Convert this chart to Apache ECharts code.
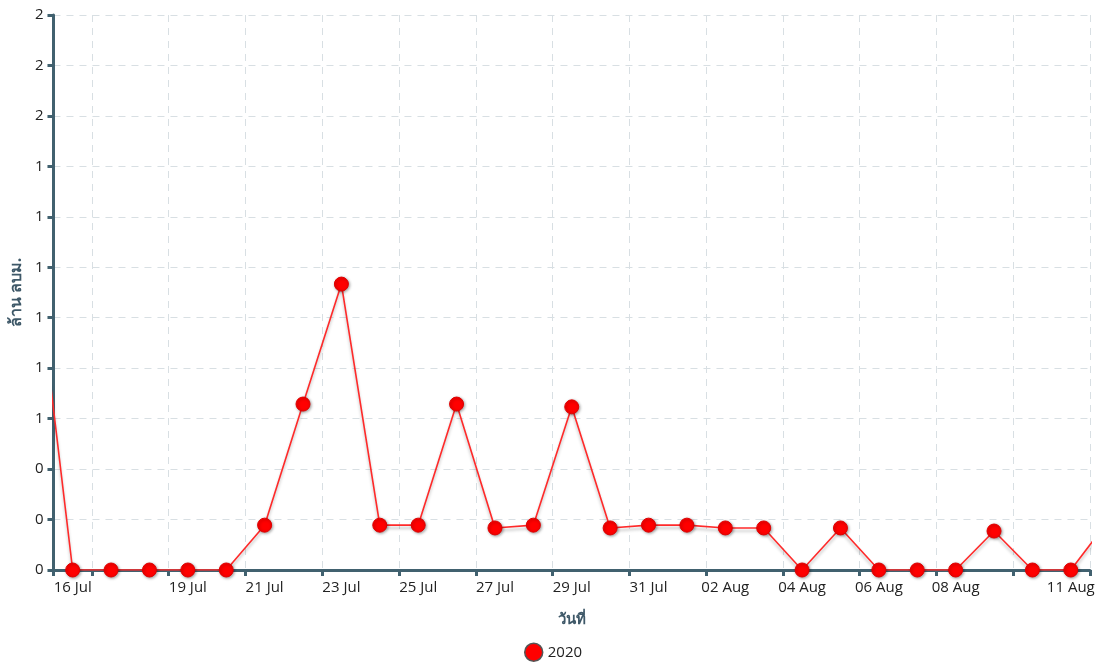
<!DOCTYPE html>
<html>
<head>
<meta charset="utf-8">
<script src="https://cdn.jsdelivr.net/npm/echarts@6/dist/echarts.min.js"></script>
<style>
html,body{margin:0;padding:0;background:#fff;}
#chart{width:1106px;height:670px;}
</style>
</head>
<body>
<div id="chart"></div>
<script>
// Days shown on the axis (16 Jul .. 11 Aug)
var categories = ['16 Jul','17 Jul','18 Jul','19 Jul','20 Jul','21 Jul','22 Jul','23 Jul','24 Jul','25 Jul','26 Jul','27 Jul','28 Jul','29 Jul','30 Jul','31 Jul','01 Aug','02 Aug','03 Aug','04 Aug','05 Aug','06 Aug','07 Aug','08 Aug','09 Aug','10 Aug','11 Aug'];
// Labels that are printed on the x axis
var xTickLabels = ['16 Jul','19 Jul','21 Jul','23 Jul','25 Jul','27 Jul','29 Jul','31 Jul','02 Aug','04 Aug','06 Aug','08 Aug','11 Aug'];
// y tick labels (bottom to top)
var yTickLabels = ['0','0','0','1','1','1','1','1','1','2','2','2'];
// Series 2020: one value before 16 Jul (15 Jul), the visible days, and one after (12 Aug)
var valueBefore = 1.15;
var values2020 = [0,0,0,0,0,0.16,0.592,1.02,0.16,0.16,0.592,0.15,0.16,0.582,0.15,0.16,0.16,0.15,0.15,0,0.15,0,0,0,0.139,0,0];
var valueAfter = 0.18;
var seriesName = '2020';

var allValues = [valueBefore].concat(values2020).concat([valueAfter]);
var seriesData = allValues.map(function(v, k){ return [k - 1, v]; });

var axisColor = '#41616f';
var fontFam = '"Open Sans","Noto Sans","DejaVu Sans",sans-serif';

var chart = echarts.init(document.getElementById('chart'), null, {renderer:'canvas'});
chart.setOption({
  animation:false,
  backgroundColor:'#fff',
  grid:{left:53, right:16, top:15, bottom:100, containLabel:false},
  legend:{
    bottom:3, left:'center',
    data:[{name:seriesName, icon:'circle'}],
    itemWidth:18, itemHeight:18,
    itemStyle:{color:'#ff0000', borderColor:'#555', borderWidth:1.5},
    textStyle:{color:'#222', fontSize:15, fontFamily:fontFam}
  },
  xAxis:[{
    type:'category',
    data:categories,
    boundaryGap:true,
    name:'วันที่',
    nameLocation:'middle',
    nameGap:42,
    nameTextStyle:{color:'#3e5868', fontWeight:'bold', fontSize:15, fontFamily:fontFam},
    axisLine:{show:true, onZero:false, lineStyle:{color:axisColor, width:3}},
    axisTick:{show:true, length:6, lineStyle:{color:axisColor, width:3},
      interval:function(i){ return i === 0 || i % 2 === 1; }},
    axisLabel:{color:'#222', fontSize:15, fontFamily:fontFam, margin:10,
      interval:function(i, v){ return xTickLabels.indexOf(v) >= 0; }},
    splitLine:{show:true, lineStyle:{color:'#d8dfe3', type:[7,6], width:1},
      interval:function(i){ return i % 2 === 1; }}
  },{
    type:'value',
    min:-0.5, max:26.5,
    show:false,
    splitLine:{show:false}
  }],
  yAxis:{
    type:'value',
    min:0, max:1.98, interval:0.18,
    name:'ล้าน ลบม.',
    nameLocation:'middle',
    nameGap:26,
    nameTextStyle:{color:'#3e5868', fontWeight:'bold', fontSize:16, fontFamily:fontFam},
    axisLine:{show:true, onZero:false, lineStyle:{color:axisColor, width:3}},
    axisTick:{show:true, length:6, lineStyle:{color:axisColor, width:3}},
    axisLabel:{color:'#222', fontSize:15, fontFamily:fontFam, margin:10,
      formatter:function(v, i){ return yTickLabels[i] !== undefined ? yTickLabels[i] : ''; }},
    splitLine:{show:true, lineStyle:{color:'#d8dfe3', type:[7,6], width:1}}
  },
  series:[{
    name:seriesName,
    type:'line',
    xAxisIndex:1,
    data:seriesData,
    clip:true,
    symbol:'circle',
    symbolSize:14,
    showAllSymbol:true,
    lineStyle:{color:'#ff2a2a', width:1.6, shadowColor:'rgba(0,0,0,0.25)', shadowBlur:3, shadowOffsetY:3},
    itemStyle:{color:'#ff0000', borderColor:'#e00000', borderWidth:1, shadowColor:'rgba(0,0,0,0.35)', shadowBlur:3, shadowOffsetX:1, shadowOffsetY:1},
    z:3
  }]
});
</script>
</body>
</html>
